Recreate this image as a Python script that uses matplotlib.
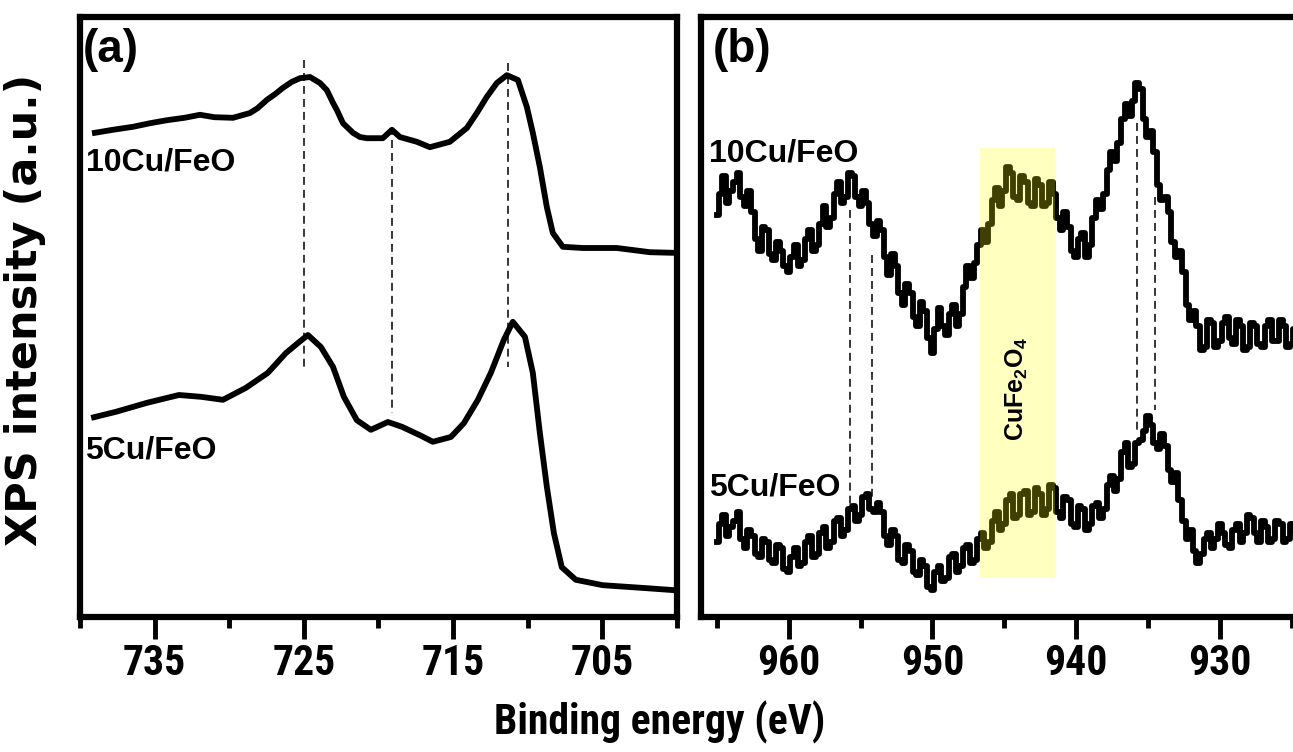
import matplotlib
matplotlib.use('Agg')
import matplotlib.pyplot as plt
from matplotlib import font_manager
from matplotlib.font_manager import FontProperties

plt.rcParams['font.family'] = ['Liberation Sans', 'DejaVu Sans']
plt.rcParams['font.weight'] = 'bold'
plt.rcParams['mathtext.fontset'] = 'custom'
plt.rcParams['mathtext.rm'] = 'Liberation Sans:bold'
plt.rcParams['mathtext.bf'] = 'Liberation Sans:bold'
plt.rcParams['mathtext.it'] = 'Liberation Sans:bold'


def find_condensed_bold():
    """Look for an installed condensed / narrow bold sans face."""
    prefs = ['liberation', 'arimo', 'roboto', 'open sans', 'noto sans', 'dejavu', 'lato']
    best = None
    for f in font_manager.fontManager.ttflist:
        name = f.name.lower()
        path = f.fname.lower()
        st = f.stretch
        cond = ('narrow' in name or 'condensed' in name or 'narrow' in path
                or 'condensed' in path
                or (isinstance(st, str) and 'condensed' in st)
                or (isinstance(st, (int, float)) and st < 500))
        w = f.weight if isinstance(f.weight, (int, float)) else (
            700 if 'bold' in str(f.weight) else 400)
        if not cond or w < 600 or 'mono' in name or 'serif' in name or 'italic' in f.style:
            continue
        rank = next((k for k, p in enumerate(prefs) if p in name), len(prefs))
        if best is None or rank < best[0]:
            best = (rank, f.fname)
    return None if best is None else best[1]


COND = find_condensed_bold()
if COND:
    tick_fp = FontProperties(fname=COND, size=30)
    xlab_fp = FontProperties(fname=COND, size=30)
else:
    tick_fp = FontProperties(family=['Liberation Sans', 'DejaVu Sans'], weight='bold', size=27)
    xlab_fp = FontProperties(family=['Liberation Sans', 'DejaVu Sans'], weight='bold', size=26)

# ---------------- data: panel (a) Fe 2p ----------------
fe_10_E = [739.0, 737.8, 736.45, 735.3, 734.17, 733.0, 731.96, 731.0, 729.75, 728.61,
           728.1, 727.47, 726.9, 726.4, 725.8, 725.26, 724.59, 723.92, 723.46, 723.05,
           722.79, 722.38, 721.71, 721.25, 720.78, 719.71, 719.1, 718.57, 717.43, 716.56,
           715.22, 714.08, 713.41, 712.74, 712.07, 711.4, 710.66, 710.06, 709.66, 709.19,
           708.72, 708.32, 707.65, 706.31, 704.03, 701.82, 700.28]
fe_10_I = [80.7, 81.2, 81.7, 82.3, 82.8, 83.2, 83.7, 83.3, 83.2, 84.0,
           84.8, 86.2, 87.2, 88.2, 89.2, 89.8, 90.0, 89.0, 87.8, 85.7,
           84.5, 82.3, 80.7, 80.0, 79.8, 79.8, 81.2, 80.0, 79.2, 78.3,
           79.2, 81.5, 84.0, 86.7, 89.0, 90.3, 89.5, 85.0, 80.7, 75.0,
           68.3, 64.0, 61.7, 61.5, 61.5, 60.8, 60.7]

fe_5_E = [739.06, 737.59, 735.51, 733.37, 731.9, 730.42, 728.88, 727.41, 726.2, 725.33,
          724.73, 723.86, 723.05, 722.32, 721.45, 720.51, 719.37, 718.43, 717.23, 716.36,
          715.15, 714.28, 713.34, 712.47, 711.6, 711.0, 710.19, 709.66, 709.19, 708.72,
          708.25, 707.72, 706.78, 704.97, 702.02, 700.35]
fe_5_I = [33.3, 34.2, 35.7, 37.0, 36.7, 36.2, 38.2, 40.7, 44.0, 45.8,
          47.0, 45.0, 41.7, 36.7, 32.8, 31.2, 32.5, 31.7, 30.3, 29.2,
          30.0, 32.3, 36.2, 40.7, 46.2, 49.2, 46.7, 40.7, 30.7, 21.7,
          14.0, 8.3, 6.2, 5.3, 4.8, 4.5]

# ---------------- data: panel (b) Cu 2p  (energy, intensity) ----------------
cu_10_pts = [
    (965.0, 67.0), (964.75, 70.5), (964.5, 73.5), (964.25, 69.0),
    (964.0, 71.0), (963.75, 72.5), (963.5, 74.0), (963.25, 70.0),
    (963.0, 68.5), (962.75, 71.0), (962.5, 67.5), (962.25, 63.0),
    (962.0, 61.0), (961.75, 65.0), (961.5, 64.5), (961.25, 60.5),
    (961.0, 59.5), (960.75, 62.5), (960.5, 61.0), (960.25, 58.5),
    (960.0, 57.5), (959.75, 60.0), (959.5, 62.0), (959.25, 58.5),
    (959.0, 59.5), (958.75, 63.0), (958.5, 64.5), (958.25, 61.0),
    (958.0, 62.0), (957.75, 65.5), (957.5, 68.5), (957.25, 65.0),
    (957.0, 66.5), (956.75, 70.5), (956.5, 72.5), (956.25, 69.0),
    (956.0, 70.0), (955.75, 74.0), (955.5, 73.5), (955.25, 70.0),
    (955.0, 68.5), (954.75, 71.0), (954.5, 69.0), (954.25, 65.5),
    (954.0, 63.5), (953.75, 66.0), (953.5, 64.5), (953.25, 60.0),
    (953.0, 57.0), (952.75, 60.5), (952.5, 58.5), (952.25, 54.0),
    (952.0, 52.0), (951.75, 55.5), (951.5, 54.0), (951.25, 50.0),
    (951.0, 48.5), (950.75, 52.5), (950.5, 51.0), (950.25, 46.5),
    (950.0, 44.0), (949.75, 48.0), (949.5, 51.5), (949.25, 48.5),
    (949.0, 47.0), (948.75, 50.5), (948.5, 52.0), (948.25, 48.5),
    (948.0, 50.5), (947.75, 55.0), (947.5, 58.5), (947.25, 56.5),
    (947.0, 59.0), (946.75, 62.0), (946.5, 64.5), (946.25, 62.5),
    (946.0, 65.5), (945.75, 69.5), (945.5, 71.5), (945.25, 68.5),
    (945.0, 71.0), (944.75, 75.0), (944.5, 74.0), (944.25, 70.0),
    (944.0, 69.5), (943.75, 73.5), (943.5, 72.5), (943.25, 69.0),
    (943.0, 68.5), (942.75, 73.0), (942.5, 72.0), (942.25, 68.5),
    (942.0, 69.0), (941.75, 72.5), (941.5, 70.5), (941.25, 66.5),
    (941.0, 64.5), (940.75, 67.5), (940.5, 65.0), (940.25, 61.0),
    (940.0, 60.0), (939.75, 63.0), (939.5, 64.0), (939.25, 60.0),
    (939.0, 62.0), (938.75, 66.5), (938.5, 69.5), (938.25, 68.0),
    (938.0, 70.5), (937.75, 74.5), (937.5, 77.5), (937.25, 76.0),
    (937.0, 79.0), (936.75, 83.0), (936.5, 85.5), (936.25, 83.5),
    (936.0, 86.0), (935.75, 89.0), (935.5, 88.0), (935.25, 83.0),
    (935.0, 80.0), (934.75, 81.0), (934.5, 77.5), (934.25, 72.0),
    (934.0, 69.5), (933.75, 70.0), (933.5, 67.5), (933.25, 62.5),
    (933.0, 60.0), (932.75, 61.0), (932.5, 57.5), (932.25, 52.0),
    (932.0, 49.5), (931.75, 51.0), (931.5, 48.5), (931.25, 44.5),
    (931.0, 45.0), (930.75, 49.5), (930.5, 49.0), (930.25, 45.0),
    (930.0, 46.0), (929.75, 49.0), (929.5, 50.0), (929.25, 46.5),
    (929.0, 45.5), (928.75, 49.5), (928.5, 48.5), (928.25, 44.5),
    (928.0, 45.0), (927.75, 49.0), (927.5, 48.5), (927.25, 45.5),
    (927.0, 45.0), (926.75, 48.5), (926.5, 49.5), (926.25, 46.0),
    (926.0, 46.0), (925.75, 49.5), (925.5, 48.5), (925.25, 45.0),
    (925.0, 45.5), (924.75, 48.0),
]
cu_5_pts = [
    (965.0, 12.5), (964.75, 15.5), (964.5, 17.0), (964.25, 13.5),
    (964.0, 15.0), (963.75, 16.0), (963.5, 17.5), (963.25, 13.0),
    (963.0, 11.5), (962.75, 14.5), (962.5, 13.5), (962.25, 10.5),
    (962.0, 10.0), (961.75, 13.0), (961.5, 12.5), (961.25, 9.5),
    (961.0, 9.0), (960.75, 12.0), (960.5, 11.5), (960.25, 8.0),
    (960.0, 7.5), (959.75, 10.0), (959.5, 11.5), (959.25, 8.5),
    (959.0, 9.0), (958.75, 12.5), (958.5, 13.5), (958.25, 10.0),
    (958.0, 10.5), (957.75, 14.0), (957.5, 15.0), (957.25, 11.5),
    (957.0, 12.5), (956.75, 16.0), (956.5, 16.5), (956.25, 13.5),
    (956.0, 14.5), (955.75, 18.0), (955.5, 18.5), (955.25, 16.0),
    (955.0, 17.0), (954.75, 20.0), (954.5, 20.5), (954.25, 18.0),
    (954.0, 17.5), (953.75, 19.0), (953.5, 17.5), (953.25, 13.5),
    (953.0, 12.0), (952.75, 14.5), (952.5, 13.5), (952.25, 9.5),
    (952.0, 9.0), (951.75, 12.0), (951.5, 11.0), (951.25, 7.5),
    (951.0, 7.0), (950.75, 9.5), (950.5, 8.5), (950.25, 5.0),
    (950.0, 4.5), (949.75, 7.5), (949.5, 8.5), (949.25, 6.0),
    (949.0, 6.5), (948.75, 10.0), (948.5, 10.5), (948.25, 7.5),
    (948.0, 8.5), (947.75, 11.5), (947.5, 12.0), (947.25, 9.0),
    (947.0, 9.5), (946.75, 13.0), (946.5, 14.0), (946.25, 11.5),
    (946.0, 12.5), (945.75, 16.0), (945.5, 17.5), (945.25, 14.5),
    (945.0, 15.5), (944.75, 19.5), (944.5, 20.5), (944.25, 16.5),
    (944.0, 17.0), (943.75, 20.5), (943.5, 21.0), (943.25, 17.0),
    (943.0, 17.5), (942.75, 21.5), (942.5, 20.5), (942.25, 17.0),
    (942.0, 18.0), (941.75, 22.0), (941.5, 21.5), (941.25, 17.5),
    (941.0, 16.5), (940.75, 20.0), (940.5, 19.5), (940.25, 15.5),
    (940.0, 15.0), (939.75, 18.5), (939.5, 18.0), (939.25, 14.5),
    (939.0, 15.5), (938.75, 18.5), (938.5, 19.0), (938.25, 16.5),
    (938.0, 18.0), (937.75, 22.0), (937.5, 23.5), (937.25, 21.0),
    (937.0, 23.0), (936.75, 27.5), (936.5, 29.0), (936.25, 25.0),
    (936.0, 25.5), (935.75, 29.0), (935.5, 29.5), (935.25, 31.0),
    (935.0, 33.5), (934.75, 32.0), (934.5, 29.0), (934.25, 28.0),
    (934.0, 30.5), (933.75, 28.5), (933.5, 24.5), (933.25, 22.5),
    (933.0, 24.0), (932.75, 19.5), (932.5, 16.0), (932.25, 13.0),
    (932.0, 14.5), (931.75, 11.0), (931.5, 9.0), (931.25, 10.5),
    (931.0, 13.0), (930.75, 14.0), (930.5, 11.5), (930.25, 13.0),
    (930.0, 15.5), (929.75, 14.0), (929.5, 12.0), (929.25, 11.5),
    (929.0, 14.5), (928.75, 15.5), (928.5, 12.5), (928.25, 14.0),
    (928.0, 17.0), (927.75, 16.5), (927.5, 14.0), (927.25, 12.5),
    (927.0, 16.0), (926.75, 15.0), (926.5, 12.5), (926.25, 13.0),
    (926.0, 16.0), (925.75, 15.5), (925.5, 12.5), (925.25, 13.0),
    (925.0, 15.5), (924.75, 14.5),
]

# reference (dashed) lines: position, top, bottom
dash_a_pos = [725.0, 719.1, 711.3]
dash_a_top = [92.8, 81.7, 92.3]
dash_a_bot = [41.7, 34.0, 41.7]
dash_b_pos = [955.75, 954.2, 935.75, 934.5]
dash_b_top = [67.8, 60.3, 82.3, 70.0]
dash_b_bot = [17.3, 20.0, 30.7, 34.5]

# CuFe2O4 highlighted region
band_lo, band_hi = 941.5, 946.7
band_ymin, band_ymax = 6.5, 78.2

ticks_a_major = [735, 725, 715, 705]
ticks_a_minor = [740, 730, 720, 710, 700]
ticks_b_major = [960, 950, 940, 930]
ticks_b_minor = [965, 955, 945, 935, 925]

# ---------------- figure ----------------
W, H = 1293, 752
fig = plt.figure(figsize=(W / 100, H / 100), dpi=100)


def px_axes(l, t, r, b):
    return fig.add_axes([l / W, 1 - b / H, (r - l) / W, (b - t) / H])


ax_a = px_axes(80, 17, 677, 617)
ax_b = px_axes(701, 17, 1300, 617)

LW = 4.2
ax_a.plot(fe_10_E, fe_10_I, color='black', lw=LW, solid_joinstyle='round', zorder=3)
ax_a.plot(fe_5_E, fe_5_I, color='black', lw=LW, solid_joinstyle='round', zorder=3)
for pts in (cu_10_pts, cu_5_pts):
    e, i = zip(*pts)
    ax_b.plot(e, i, color='black', lw=LW, drawstyle='steps-mid', zorder=3)

for x, y0, y1 in zip(dash_a_pos, dash_a_top, dash_a_bot):
    ax_a.plot([x, x], [y0, y1], color='black', lw=1.1, ls=(0, (5.2, 3.3)), zorder=2)
for x, y0, y1 in zip(dash_b_pos, dash_b_top, dash_b_bot):
    ax_b.plot([x, x], [y0, y1], color='black', lw=1.1, ls=(0, (5.2, 3.3)), zorder=2)

ax_b.axvspan(band_lo, band_hi, ymin=band_ymin / 100, ymax=band_ymax / 100,
             color='#ffff00', alpha=0.25, lw=0, zorder=4)
ax_b.text((band_lo + band_hi) / 2, 38.0, r'CuFe$_2$O$_4$', rotation=90,
          ha='center', va='center', fontsize=18, fontweight='bold', zorder=5)

ax_a.set_xlim(740, 700)
ax_b.set_xlim(966.1, 966.1 - 599 / 14.37)
for ax, maj, mn in [(ax_a, ticks_a_major, ticks_a_minor), (ax_b, ticks_b_major, ticks_b_minor)]:
    ax.set_ylim(0, 100)
    ax.set_xticks(maj)
    ax.set_xticks(mn, minor=True)
    ax.set_xticklabels([str(v) for v in maj])
    for lab in ax.get_xticklabels():
        lab.set_fontproperties(tick_fp)
    ax.set_yticks([])
    ax.tick_params(axis='x', which='major', direction='out', length=16, width=3.5, pad=3)
    ax.tick_params(axis='x', which='minor', direction='out', length=8, width=3.5)
    ax.xaxis.set_ticks_position('bottom')
    for s in ax.spines.values():
        s.set_linewidth(4.5)

ax_a.text(0.005, 0.982, '(a)', transform=ax_a.transAxes, ha='left', va='top', fontsize=33)
ax_a.text(0.01, 0.782, '10Cu/FeO', transform=ax_a.transAxes, ha='left', va='top', fontsize=23)
ax_a.text(0.008, 0.303, '5Cu/FeO', transform=ax_a.transAxes, ha='left', va='top', fontsize=23)
ax_b.text(0.02, 0.982, '(b)', transform=ax_b.transAxes, ha='left', va='top', fontsize=33)
ax_b.text(0.013, 0.797, '10Cu/FeO', transform=ax_b.transAxes, ha='left', va='top', fontsize=23)
ax_b.text(0.013, 0.24, '5Cu/FeO', transform=ax_b.transAxes, ha='left', va='top', fontsize=23)

fig.text(660 / W, 1 - 722 / H, 'Binding energy (eV)', ha='center', va='center',
         fontproperties=xlab_fp)
fig.text(25 / W, 1 - 310 / H, 'XPS intensity (a.u.)', rotation=90, ha='center',
         va='center', family=['DejaVu Sans'], fontweight='bold', fontsize=31)

fig.savefig('out.png', dpi=100)
